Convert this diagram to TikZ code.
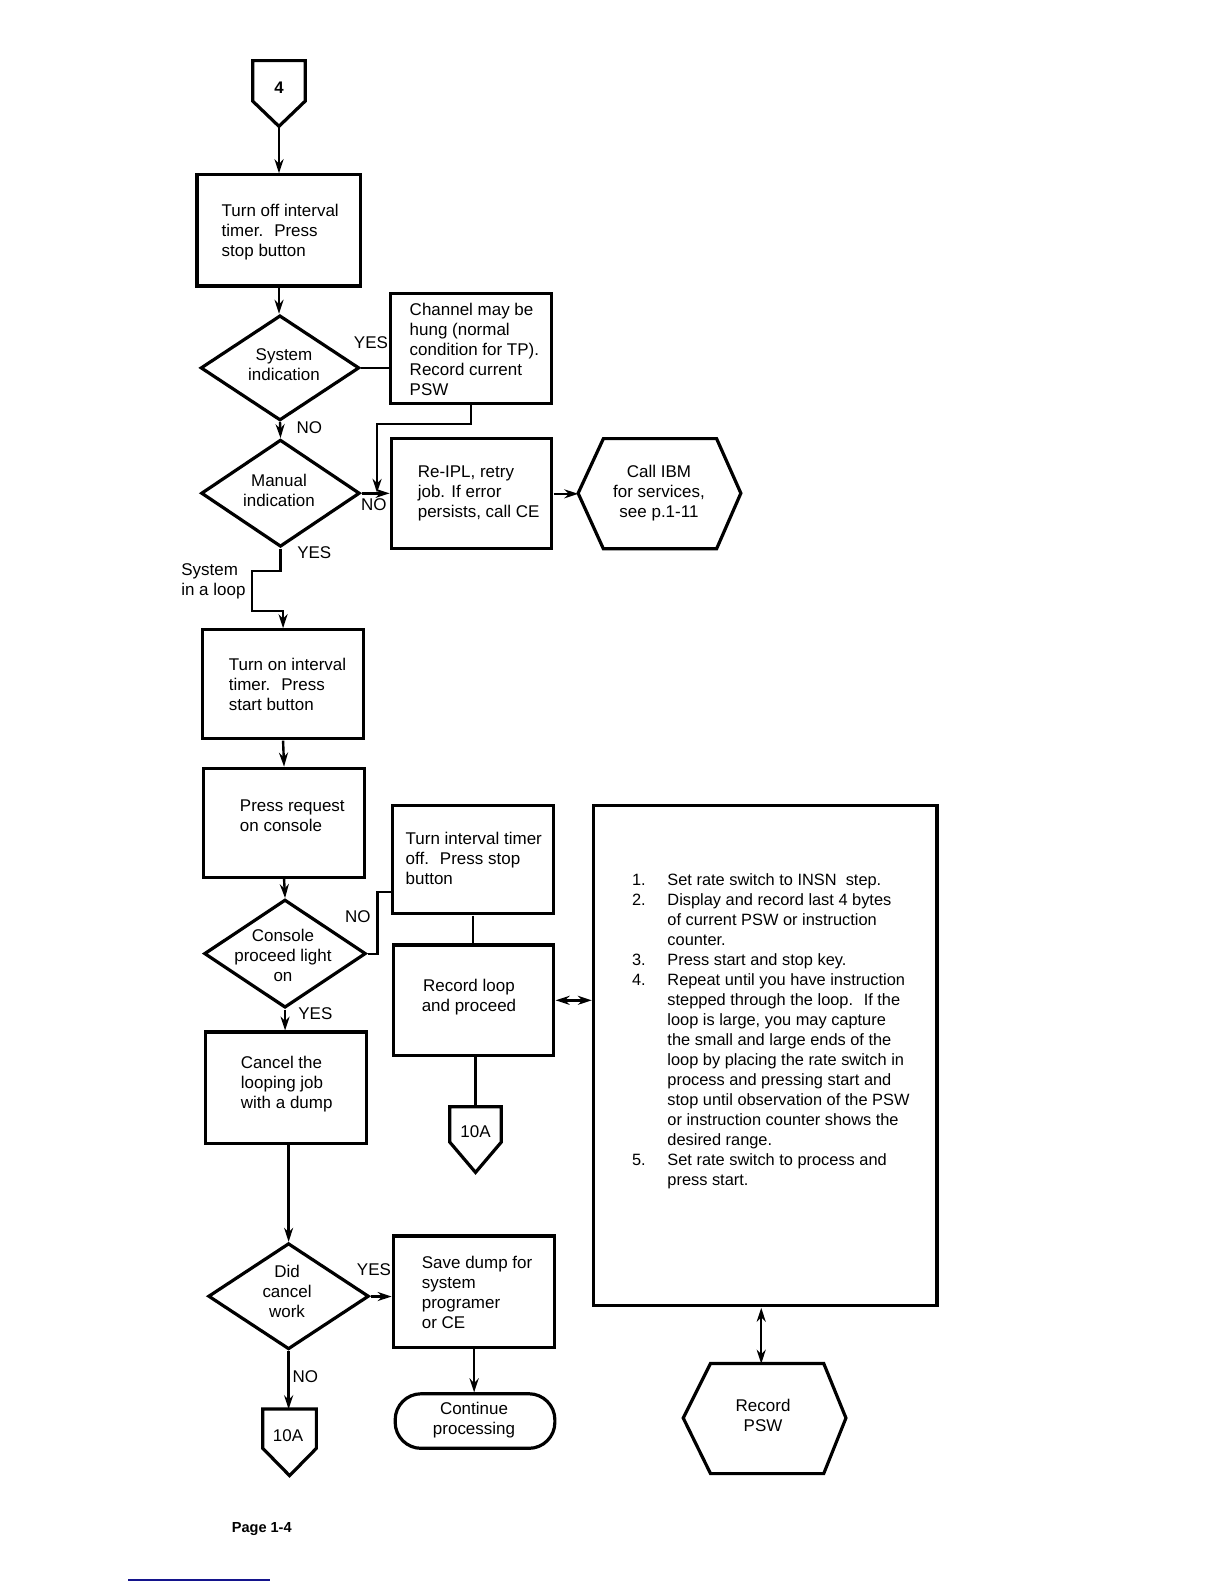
\documentclass[tikz,border=0pt]{standalone}
\usepackage{fontspec}
\setmainfont{Liberation Sans}
\usetikzlibrary{arrows.meta,shapes.geometric,calc}
\begin{document}
\begin{tikzpicture}[x=0.5pt,y=-0.5pt,
  font=\fontsize{8.4}{9.9}\selectfont,
  box/.style={draw,line width=1.6pt,inner sep=0pt,minimum width=80pt,minimum height=54.5pt},
  dia/.style={draw,diamond,line width=1.6pt,inner sep=0pt,minimum width=79pt,minimum height=53pt},
  txt/.style={align=left,inner sep=0pt,anchor=west},
  ctxt/.style={align=center,inner sep=0pt},
  lbl/.style={inner sep=0pt},
  arr/.style={line width=1.2pt,-{Stealth[length=7pt,width=4.5pt]}},
  ln/.style={line width=1.2pt},
  dbl/.style={line width=1.2pt,{Stealth[length=7pt,width=4.5pt]}-{Stealth[length=7pt,width=4.5pt]}},
  outl/.style={line width=1.6pt,line join=miter}]
\useasboundingbox (0,0) rectangle (1224,1584);

% blue rule
\draw[line width=0.8pt,color={rgb,255:red,20;green,20;blue,140}] (128,1580) -- (270,1580);

\begin{scope}[scale=1.0107, transform shape]
% off-page connector 4
\draw[outl] (250,60) -- (302,60) -- (302,100) -- (276,125) -- (250,100) -- cycle;
\node[ctxt,font=\fontsize{8.3}{9.9}\selectfont\bfseries] (c4) at (276,87) {4};
\coordinate (c4p) at (276,125);

% box 1
\node[box,minimum width=81pt,minimum height=55pt] (b1) at (276,228) {};
\node[txt] (b1t) at (219,230) {Turn off interval\\timer.~ Press\\stop button};

% diamond 1
\node[dia,minimum width=78.5pt,minimum height=52pt] (d1) at (277,364) {};
\node[ctxt] (d1t) at (281,361) {System\\indication};

% box 2
\node[box] (b2) at (466,344.5) {};
\node[txt] (b2t) at (405,346) {Channel may be\\hung (normal\\condition for TP).\\Record current\\PSW};

% diamond 2
\node[dia,minimum width=78.5pt,minimum height=53pt] (d2) at (277.5,488) {};
\node[ctxt] (d2t) at (276,485) {Manual\\indication};

% box 3
\node[box,minimum width=79.5pt] (b3) at (466.5,488.5) {};
\node[txt] (b3t) at (413,488) {Re-IPL, retry\\job. If error\\persists, call CE};

% hexagon 1
\draw[outl] (572,488) -- (597,434) -- (709,434) -- (733,488) -- (709,543) -- (597,543) -- cycle;
\node[ctxt] (h1t) at (652,488) {Call IBM\\for services,\\see p.1-11};
\coordinate (h1w) at (572,488.5);

% box 4
\node[box,minimum height=54pt] (b4) at (280,677) {};
\node[txt] (b4t) at (226,677) {Turn on interval\\timer.~ Press\\start button};

% box 5
\node[box,minimum height=54pt] (b5) at (281,814) {};
\node[txt] (b5t) at (237,807) {Press request\\on console};

% diamond 3
\node[dia,minimum width=80pt,minimum height=53.5pt] (d3) at (282,943.5) {};
\node[ctxt] (d3t) at (280,945) {Console\\proceed light\\on};

% box 6
\node[box,minimum height=53.5pt] (b6) at (468,850.5) {};
\node[txt] (b6t) at (401,849) {Turn interval timer\\off.~ Press stop\\button};

% box 7
\node[box,minimum width=79.5pt] (b7) at (468.5,989.5) {};
\node[ctxt] (b7t) at (464,987) {Record loop\\and proceed};

% off-page connector 10A (upper)
\draw[outl] (445,1095) -- (496,1095) -- (496,1130) -- (470.5,1160) -- (445,1130) -- cycle;
\node[ctxt] (c1) at (470.5,1120) {10A};
\coordinate (c1t) at (470.5,1095);

% box 8
\node[box,minimum height=55pt] (b8) at (283,1076) {};
\node[txt] (b8t) at (238,1073) {Cancel the\\looping job\\with a dump};

% diamond 4
\node[dia,minimum width=79.5pt,minimum height=52.5pt] (d4) at (285.5,1282.5) {};
\node[ctxt] (d4t) at (284,1278) {Did\\cancel\\work};

% box 9
\node[box,minimum height=55pt] (b9) at (469,1278) {};
\node[txt] (b9t) at (417,1279) {Save dump for\\system\\programer\\or CE};

% terminal
\node[draw,line width=1.6pt,rounded corners=13pt,inner sep=0pt,minimum width=79pt,minimum height=27pt] (term) at (470,1406) {};
\node[ctxt] (termt) at (469,1405) {Continue\\processing};

% off-page connector 10A (lower)
\draw[outl] (260,1394) -- (313,1394) -- (313,1433) -- (286.5,1460) -- (260,1433) -- cycle;
\node[ctxt] (c2) at (285,1420) {10A};
\coordinate (c2t) at (286.5,1394);

% big box
\node[box,minimum width=170pt,minimum height=247.5pt] (big) at (757,1044.5) {};
\node[txt,font=\fontsize{8.1}{9.9}\selectfont] (bigt) at (625,1020.5) {%
\makebox[17.5pt][l]{1.}Set rate switch to INSN~ step.\\
\makebox[17.5pt][l]{2.}Display and record last 4 bytes\\
\hspace*{17.5pt}of current PSW or instruction\\
\hspace*{17.5pt}counter.\\
\makebox[17.5pt][l]{3.}Press start and stop key.\\
\makebox[17.5pt][l]{4.}Repeat until you have instruction\\
\hspace*{17.5pt}stepped through the loop.~ If the\\
\hspace*{17.5pt}loop is large, you may capture\\
\hspace*{17.5pt}the small and large ends of the\\
\hspace*{17.5pt}loop by placing the rate switch in\\
\hspace*{17.5pt}process and pressing start and\\
\hspace*{17.5pt}stop until observation of the PSW\\
\hspace*{17.5pt}or instruction counter shows the\\
\hspace*{17.5pt}desired range.\\
\makebox[17.5pt][l]{5.}Set rate switch to process and\\
\hspace*{17.5pt}press start.};

% hexagon 2
\draw[outl] (676,1403) -- (703,1349) -- (815,1349) -- (837,1403) -- (815,1458) -- (703,1458) -- cycle;
\node[ctxt] (h2t) at (755,1400) {Record\\PSW};
\coordinate (h2n) at (753,1349);

% labels
\node[lbl] (l1) at (367,339) {YES};
\node[lbl] (l2) at (306,423) {NO};
\node[lbl] (l3) at (370,499) {NO};
\node[lbl] (l4) at (311,547) {YES};
\node[txt] (l5) at (179,575) {System\\in a loop};
\node[lbl] (l6) at (354,907) {NO};
\node[lbl] (l7) at (312,1003) {YES};
\node[lbl] (l8) at (370,1256) {YES};
\node[lbl] (l9) at (302,1362) {NO};
\node[lbl,font=\fontsize{7.2}{8}\selectfont\bfseries] (pg) at (259,1513) {Page 1-4};

% connectors
\coordinate (j1) at (373,487.5);
\draw[arr] (c4p) -- (b1.north);
\draw[arr] (b1.south) -- (b1.south |- d1.north);
\draw[ln] (d1.east) -- (d1.east -| b2.west);
\draw[arr] (b2.south) -- ++(0,19) -| (j1);
\draw[arr] (d1.south) -- (d2.north);
\draw[arr] (d2.east) -- (d2.east -| b3.west);
\draw[arr] (b3.east) -- (h1w);
\draw[arr] (d2.south) -- ++(0,22) -- ++(-28.5,0) -- ++(0,40) -| (b4.north);
\draw[arr] (b4.south) -- (b5.north);
\draw[arr] (b5.south) -- (d3.north);
\draw[ln] (d3.east) -- ++(10,0) |- ($(b6.south west)+(0,-23)$);
\draw[ln] (b6.south) -- (b6.south |- b7.north);
\draw[dbl] (b7.east) -- (b7.east -| big.west);
\draw[ln] (b7.south -| c1t) -- (c1t);
\draw[arr] (d3.south) -- (d3.south |- b8.north);
\draw[arr] (d4.north |- b8.south) -- (d4.north);
\draw[arr] (d4.east) -- (d4.east -| b9.west);
\draw[arr] (b9.south) -- (b9.south |- term.north);
\draw[arr] (d4.south) -- (d4.south |- c2t);
\draw[dbl] (big.south -| h2n) -- (h2n);
\end{scope}
\end{tikzpicture}
\end{document}
